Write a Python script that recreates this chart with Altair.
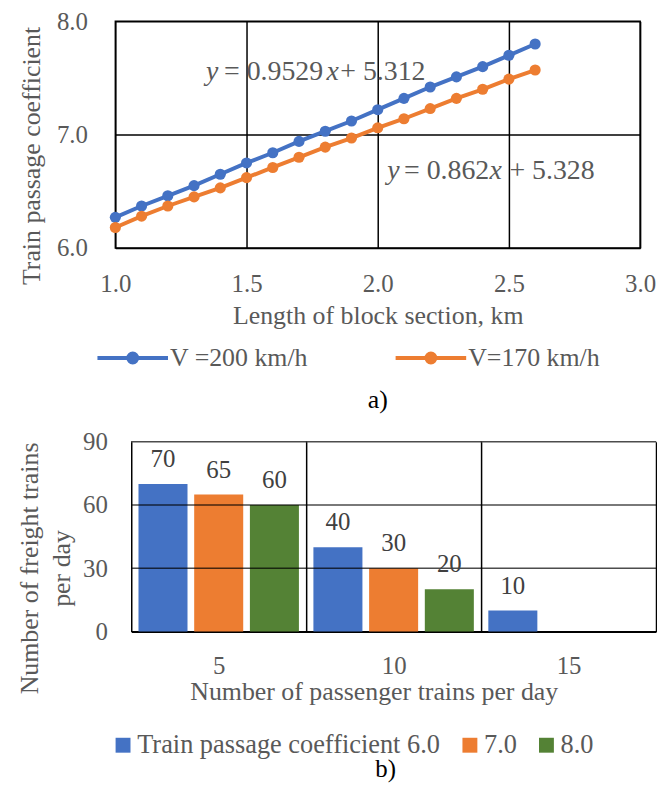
import altair as alt
import pandas as pd

# ---------------- Panel a) data ----------------
block_length = [1.0, 1.1, 1.2, 1.3, 1.4, 1.5, 1.6, 1.7, 1.8, 1.9, 2.0, 2.1, 2.2, 2.3, 2.4, 2.5, 2.6]
coef_v200 = [6.27, 6.37, 6.46, 6.55, 6.65, 6.75, 6.84, 6.94, 7.03, 7.12, 7.22, 7.32, 7.42, 7.51, 7.60, 7.70, 7.80]
coef_v170 = [6.18, 6.28, 6.37, 6.45, 6.53, 6.62, 6.71, 6.80, 6.89, 6.97, 7.06, 7.14, 7.23, 7.32, 7.40, 7.49, 7.57]
series_a = ["V =200 km/h", "V=170 km/h"]
colors_a = ["#4472C4", "#ED7D31"]
x_ticks_a = [1.0, 1.5, 2.0, 2.5, 3.0]
y_ticks_a = [6.0, 7.0, 8.0]

# trend-line equations (annotation anchors in data units)
eq_x = [1.346, 2.036]
eq_y = [7.483, 6.607]
eq_coef = ["= 0.9529", "= 0.862"]
eq_const = ["+ 5.312", "+ 5.328"]

# ---------------- Panel b) data ----------------
passenger_trains = ["5", "10", "15"]
coef_labels = ["Train passage coefficient 6.0", "7.0", "8.0"]
freight_c60 = [70, 40, 10]
freight_c70 = [65, 30, None]
freight_c80 = [60, 20, None]
colors_b = ["#4472C4", "#ED7D31", "#548235"]
y_ticks_b = [0, 30, 60, 90]

FONT = "Times New Roman, Liberation Serif, serif"
GRAY = "#595959"

# ---------------- Panel a) ----------------
df_a = pd.DataFrame({
    "x": block_length * 2,
    "y": coef_v200 + coef_v170,
    "series": [series_a[0]] * len(block_length) + [series_a[1]] * len(block_length),
})

x_a = alt.X("x:Q", scale=alt.Scale(domain=[1, 3], nice=False, zero=False),
            axis=alt.Axis(values=x_ticks_a, format=".1f", title="Length of block section, km",
                          grid=True, gridColor="black", gridWidth=1.5, ticks=False, domain=False,
                          labelFont=FONT, labelFontSize=25, labelColor=GRAY, labelPadding=24,
                          labelFlush=False,
                          titleFont=FONT, titleFontSize=26, titleColor=GRAY,
                          titleFontWeight="normal", titlePadding=6))
y_a = alt.Y("y:Q", scale=alt.Scale(domain=[6, 8], nice=False, zero=False),
            axis=alt.Axis(values=y_ticks_a, format=".1f", title="Train passage coefficient",
                          grid=True, gridColor="black", gridWidth=1.5, ticks=False, domain=False,
                          labelFont=FONT, labelFontSize=25, labelColor=GRAY, labelPadding=28,
                          titleFont=FONT, titleFontSize=26, titleColor=GRAY,
                          titleFontWeight="normal", titleX=-76.5, titleY=135,
                          titleBaseline="alphabetic", titleAlign="center", titleAngle=-90))

LEG_PATH = ("M-1,0H1"
            "M-0.127,0A0.127,0.127 0 1,1 0.127,0A0.127,0.127 0 1,1 -0.127,0"
            "M-0.045,0A0.045,0.045 0 1,1 0.045,0A0.045,0.045 0 1,1 -0.045,0")

color_a = alt.Color("series:N", sort=series_a,
                    scale=alt.Scale(domain=series_a, range=colors_a),
                    legend=alt.Legend(title=None, orient="none", legendX=-20, legendY=301,
                                      direction="horizontal", columns=2, columnPadding=80,
                                      symbolType=LEG_PATH, symbolSize=5041, symbolStrokeWidth=4,
                                      labelFont=FONT, labelFontSize=26, labelColor=GRAY,
                                      labelOffset=0, padding=0, labelLimit=400))

lines = alt.Chart(df_a).mark_line(strokeWidth=4).encode(x=x_a, y=y_a, color=color_a)
points = alt.Chart(df_a).mark_circle(size=125, opacity=1).encode(
    x="x:Q", y="y:Q",
    color=alt.Color("series:N", scale=alt.Scale(domain=series_a, range=colors_a), legend=None))

df_eq = pd.DataFrame({"x": eq_x, "y": eq_y, "coef": eq_coef, "const": eq_const})
eq_layers = []
for i in range(len(eq_x)):
    d = df_eq.iloc[[i]]
    if i == 0:
        offs = (0, 18, 121, 135)
    else:
        offs = (0, 17, 103, 123)
    base = alt.Chart(d).encode(x="x:Q", y="y:Q")
    eq_layers += [
        base.mark_text(text="y", fontStyle="italic", align="left", baseline="alphabetic",
                       dx=offs[0], font=FONT, fontSize=28, color=GRAY),
        base.mark_text(align="left", baseline="alphabetic", dx=offs[1], font=FONT,
                       fontSize=28, color=GRAY).encode(text="coef:N"),
        base.mark_text(text="x", fontStyle="italic", align="left", baseline="alphabetic",
                       dx=offs[2], font=FONT, fontSize=28, color=GRAY),
        base.mark_text(align="left", baseline="alphabetic", dx=offs[3], font=FONT,
                       fontSize=28, color=GRAY).encode(text="const:N"),
    ]

top = alt.layer(lines, points, *eq_layers).properties(
    width=528, height=228,
    view=alt.ViewBackground(stroke="black", strokeWidth=1.5),
    title=alt.TitleParams("a)", orient="bottom", font=FONT, fontSize=26, color="black",
                          fontWeight="normal", offset=16))

# ---------------- Panel b) ----------------
rows = []
for i, p in enumerate(passenger_trains):
    for s, vals in zip(coef_labels, [freight_c60, freight_c70, freight_c80]):
        if vals[i] is not None:
            rows.append({"passenger": p, "series": s, "value": vals[i]})
df_b = pd.DataFrame(rows)

grid_rows = [{"passenger": p, "level": v} for p in passenger_trains for v in y_ticks_b if v > 0]
df_grid = pd.DataFrame(grid_rows)

x_b = alt.X("passenger:N", sort=passenger_trains,
            scale=alt.Scale(range=[16, 544], paddingInner=0, paddingOuter=0),
            axis=alt.Axis(title="Number of passenger trains per day", labelAngle=0,
                          grid=True, tickBand="extent", gridColor="black", gridWidth=1.5,
                          ticks=False, domain=True, domainColor="black", domainWidth=2,
                          labelFont=FONT, labelFontSize=25, labelColor=GRAY, labelPadding=22,
                          titleFont=FONT, titleFontSize=26, titleColor=GRAY,
                          titleFontWeight="normal", titlePadding=0, titleX=260))
xo_b = alt.XOffset("series:N", sort=coef_labels,
                   scale=alt.Scale(domain=coef_labels, paddingInner=0.12, paddingOuter=0.13))
y_b = alt.Y("value:Q", scale=alt.Scale(domain=[0, 90], nice=False),
            axis=alt.Axis(values=y_ticks_b, title=["Number of freight trains", "per day"],
                          grid=False, ticks=False, domain=False,
                          labelFont=FONT, labelFontSize=25, labelColor=GRAY, labelPadding=8,
                          titleFont=FONT, titleFontSize=26, titleColor=GRAY,
                          titleFontWeight="normal", titleX=-78, titleY=127, titleLineHeight=32,
                          titleBaseline="alphabetic", titleAlign="center", titleAngle=-90))
color_b = alt.Color("series:N", sort=coef_labels,
                    scale=alt.Scale(domain=coef_labels, range=colors_b),
                    legend=alt.Legend(title=None, orient="none", legendX=-5.5, legendY=292,
                                      direction="horizontal", columns=3, columnPadding=16,
                                      symbolType="square", symbolSize=225, symbolStrokeWidth=0,
                                      labelFont=FONT, labelFontSize=26.5, labelColor=GRAY,
                                      labelOffset=1, padding=0, labelLimit=400))

# horizontal grid lines (incl. top border) spanning each category band
grid_lines = alt.Chart(df_grid).mark_tick(size=176.5, thickness=1.5, color="black").encode(
    x=alt.X("passenger:N", sort=passenger_trains),
    y=alt.Y("level:Q"))
bars = alt.Chart(df_b).mark_bar().encode(x=x_b, xOffset=xo_b, y=y_b, color=color_b)
bar_labels = alt.Chart(df_b).mark_text(dy=-17, baseline="alphabetic", font=FONT,
                                       fontSize=25, color="#404040").encode(
    x=alt.X("passenger:N", sort=passenger_trains),
    xOffset=alt.XOffset("series:N", sort=coef_labels),
    y="value:Q", text="value:Q")

bottom = alt.layer(bars, grid_lines, bar_labels).properties(
    width=544, height=191,
    view=alt.ViewBackground(stroke="transparent"),
    title=alt.TitleParams("b)", orient="bottom", font=FONT, fontSize=25, color="black",
                          fontWeight="normal", offset=-1.5))

chart = alt.vconcat(top, bottom, spacing=15).resolve_scale(
    color="independent", x="independent", y="independent", xOffset="independent"
).resolve_legend(color="independent").properties(
    padding={"left": 8, "top": -2, "right": 0, "bottom": 0}
).configure(font=FONT)

chart.save("out.html", embed_options={"renderer": "svg", "actions": False})
